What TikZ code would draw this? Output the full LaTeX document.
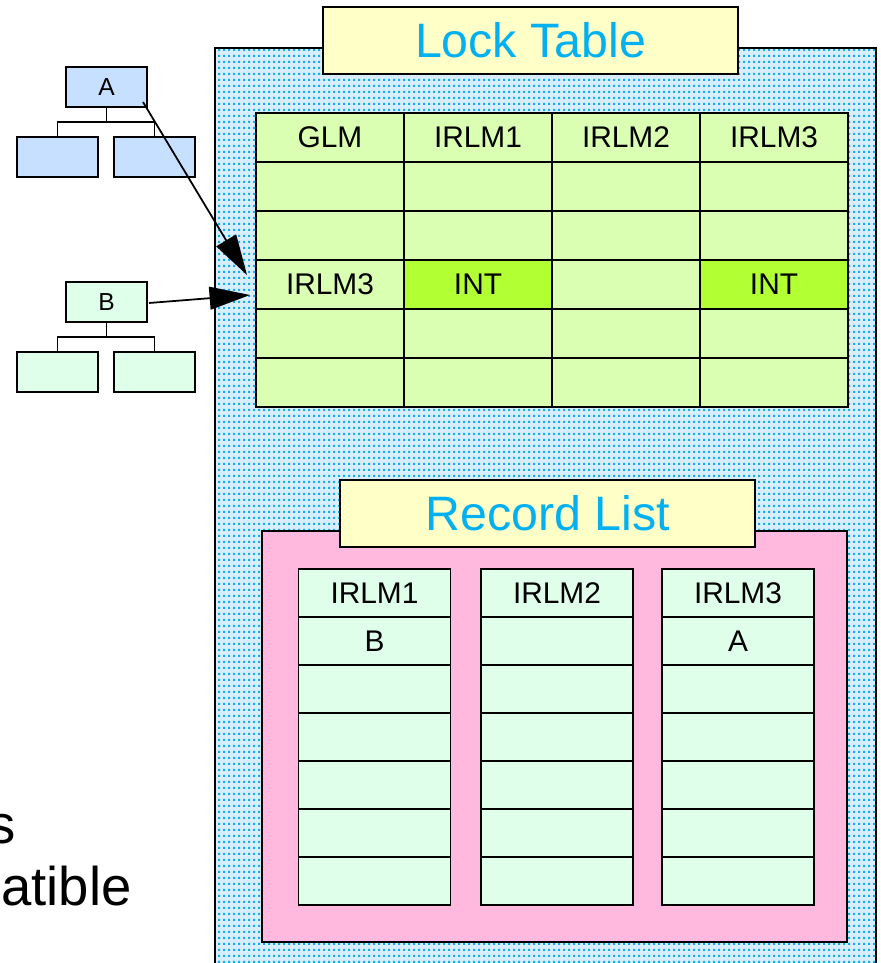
\documentclass[tikz,border=0pt]{standalone}
\usepackage{fontspec}
\setmainfont{Liberation Sans}
\usetikzlibrary{calc, arrows.meta, patterns}

\definecolor{dotbg}{HTML}{D8EEFF}
\definecolor{dotblue}{HTML}{12AEF2}
\definecolor{titlebg}{HTML}{FFFFC8}
\definecolor{titlecyan}{HTML}{00B0F0}
\definecolor{lockgreen}{HTML}{DAFFB2}
\definecolor{intgreen}{HTML}{B2FF33}
\definecolor{recpink}{HTML}{FFB9DF}
\definecolor{recmint}{HTML}{E0FFEA}
\definecolor{treeblue}{HTML}{C8E0FF}

\pgfdeclarepatternformonly{bluedots}{\pgfpointorigin}{\pgfqpoint{2.9pt}{3.2pt}}{\pgfqpoint{2.9pt}{3.2pt}}{%
  \pgfpathrectangle{\pgfpointorigin}{\pgfqpoint{1.45pt}{1.35pt}}\pgfusepath{fill}}

\begin{document}
\begin{tikzpicture}[x=0.02cm, y=-0.02cm,
    cell/.style={draw, line width=1pt, fill=lockgreen, minimum width=2.96cm, minimum height=0.98cm,
      inner sep=0pt, outer sep=0pt, font=\fontsize{17}{17}\selectfont},
    reccell/.style={cell, fill=recmint, minimum width=3.04cm, minimum height=0.96cm},
    titlebox/.style={draw, line width=1pt, fill=titlebg, text=titlecyan, minimum width=8.3cm,
      minimum height=1.34cm, inner sep=0pt, font=\fontsize{27.5}{27.5}\selectfont},
    treebox/.style={draw, line width=1pt, minimum width=1.62cm, minimum height=0.8cm,
      inner sep=0pt, outer sep=0pt, font=\fontsize{14}{14}\selectfont},
    bigtext/.style={inner sep=0pt, font=\fontsize{31}{31}\selectfont},
    head/.style={-{Triangle[length=23pt,width=13pt]}, line width=1pt}]

    \useasboundingbox (0,0) rectangle (881,963);

    %dotted lock structure area (runs off the bottom)
    \fill[dotbg] (215,48) rectangle (876,990);
    \fill[pattern=bluedots, pattern color=dotblue] (215,48) rectangle (876,990);
    \draw[line width=1pt] (215,990) -- (215,48) -- (876,48) -- (876,990);

    \node[titlebox] (locktitle) at (530.5,40.5) {Lock Table};

    %lock table
    \foreach \c/\name in {1/GLM, 2/IRLM1, 3/IRLM2, 4/IRLM3}
      \node[cell] (lt-1-\c) at ({256+148*(\c-0.5)}, 137.5) {\name};
    \foreach \r in {2,3,5,6}
      \foreach \c in {1,...,4}
        \node[cell] (lt-\r-\c) at ({256+148*(\c-0.5)}, {113+49*(\r-0.5)}) {};
    \node[cell] (lt-4-1) at (330,284.5) {IRLM3};
    \node[cell, fill=intgreen] (lt-4-2) at (478,284.5) {INT};
    \node[cell] (lt-4-3) at (626,284.5) {};
    \node[cell, fill=intgreen] (lt-4-4) at (774,284.5) {INT};

    %record list
    \draw[line width=1pt, fill=recpink] (262,531) rectangle (847,942);
    \node[titlebox] (rectitle) at (547.5,513.5) {Record List};

    \foreach \c/\x/\name/\owner in {1/374.5/IRLM1/B, 2/557/IRLM2/{}, 3/738/IRLM3/A} {
      \node[reccell] (rl-1-\c) at (\x,593) {\name};
      \node[reccell] (rl-2-\c) at (\x,641) {\owner};
      \foreach \r in {3,...,7}
        \node[reccell] (rl-\r-\c) at (\x, {569+48*(\r-0.5)}) {};
    }

    %transaction trees
    \node[treebox, fill=treeblue] (rootA) at (106.5,87) {A};
    \node[treebox, fill=treeblue] (kidA1) at (57.5,157) {};
    \node[treebox, fill=treeblue] (kidA2) at (154.5,157) {};
    \draw[line width=0.9pt] (rootA.south) -- ++(0,15) -| (kidA1.north);
    \draw[line width=0.9pt] (rootA.south) -- ++(0,15) -| (kidA2.north);

    \node[treebox, fill=recmint] (rootB) at (106.5,302) {B};
    \node[treebox, fill=recmint] (kidB1) at (57.5,372) {};
    \node[treebox, fill=recmint] (kidB2) at (154.5,372) {};
    \draw[line width=0.9pt] (rootB.south) -- ++(0,15) -| (kidB1.north);
    \draw[line width=0.9pt] (rootB.south) -- ++(0,15) -| (kidB2.north);

    \coordinate (tipA) at (247,275);
    \coordinate (tipB) at (250,295);
    \draw[head] ([shift={(-4,-5)}]rootA.south east) -- (tipA);
    \draw[head] ([shift={(2,1)}]rootB.east) -- (tipB);

    %cut-off text on the left
    \node[bigtext, anchor=base east] (textS) at (16,843) {s};
    \node[bigtext, anchor=base west] (textCompat) at (1,905) {atible};

\end{tikzpicture}
\end{document}
